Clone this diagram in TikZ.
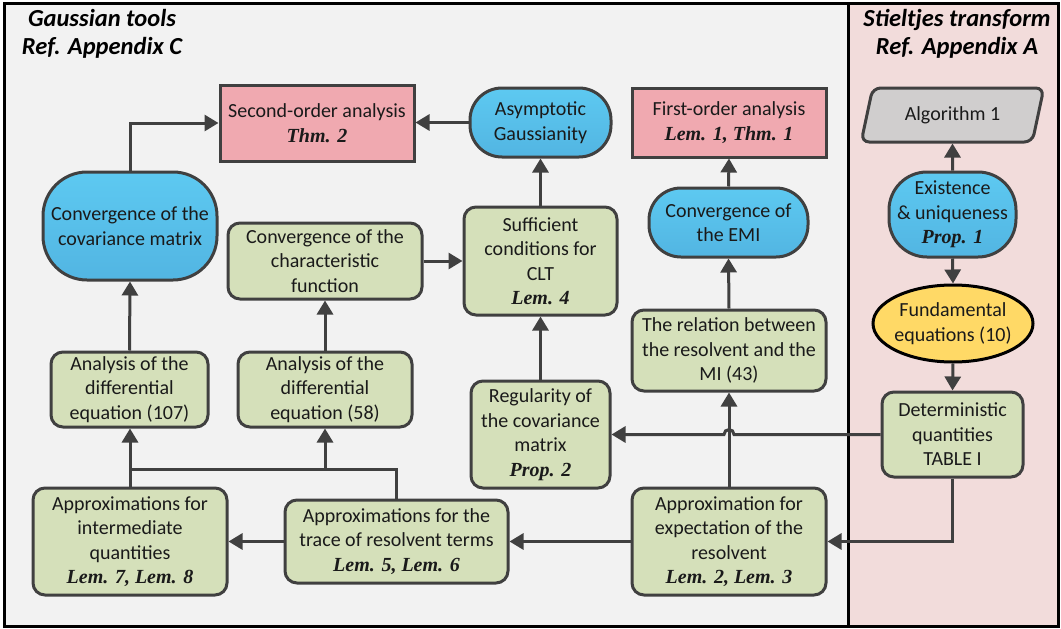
\documentclass[tikz,border=0pt]{standalone}
\usepackage{fontspec}
\setmainfont{Carlito}
\newfontfamily\lemfont{Liberation Serif}
\usetikzlibrary{shapes.geometric,arrows.meta,calc}
\definecolor{lc}{HTML}{404040}
\definecolor{txt}{HTML}{1A1A1A}
\definecolor{gfill}{HTML}{D5E0BA}
\definecolor{pfill}{HTML}{F0A9B0}
\definecolor{btop}{HTML}{5DC9F1}
\definecolor{bbot}{HTML}{52B5E2}
\definecolor{yfill}{HTML}{FFD966}
\definecolor{afill}{HTML}{D0CECE}
\definecolor{lbg}{HTML}{F2F2F2}
\definecolor{rbg}{HTML}{F2DCDB}
\newcommand\lem[1]{{\lemfont\bfseries\itshape #1}}
\tikzset{
  base/.style={draw=lc, line width=3pt, align=center, inner sep=1pt, text=txt,
    font=\fontsize{20}{24.5}\selectfont},
  gbox/.style={base, rectangle, rounded corners=12pt, fill=gfill},
  pbox/.style={base, rectangle, fill=pfill},
  bnode/.style={base, rectangle, top color=btop, bottom color=bbot},
  arr/.style={draw=lc, line width=3pt, -{Triangle[length=14pt,width=16pt]}},
  plain/.style={draw=lc, line width=3pt},
  head/.style={align=center, text=black, font=\fontsize{24.5}{28}\selectfont\bfseries\itshape},
}
\begin{document}
\begin{tikzpicture}[x=1pt,y=-1pt]
\useasboundingbox (0,0) rectangle (1061,629);
% panels
\fill[lbg] (4,3) rectangle (848,626);
\fill[rbg] (848,3) rectangle (1058,626);
\draw[black, line width=3pt] (4,3) rectangle (1058,626);
\draw[black, line width=3pt] (848,3) -- (848,626);
% headings
\node[head] (hl) at (102,34) {Gaussian tools\\Ref. Appendix C};
\node[head] (hr) at (957,34) {Stieltjes transform\\Ref. Appendix A};
% nodes
\node[pbox, minimum width=194pt, minimum height=76pt] (second) at (317,123) {Second-order analysis\\\lem{Thm. 2}};
\node[bnode, rounded corners=32pt, minimum width=141pt, minimum height=69pt] (asym) at (540.5,122.5) {Asymptotic\\Gaussianity};
\node[pbox, minimum width=194pt, minimum height=69pt] (first) at (729,122.5) {First-order analysis\\\lem{Lem. 1, Thm. 1}};
\node[bnode, rounded corners=44pt, minimum width=174pt, minimum height=108pt] (cov) at (130,226) {Convergence of the\\covariance matrix};
\node[gbox, minimum width=194pt, minimum height=76pt] (char) at (325,261) {Convergence of the\\characteristic\\function};
\node[gbox, minimum width=153pt, minimum height=108pt] (suff) at (540.5,261) {Sufficient\\conditions for\\CLT\\\lem{Lem. 4}};
\node[bnode, rounded corners=32pt, minimum width=159pt, minimum height=69pt] (emi) at (728.5,222.5) {Convergence of\\the EMI};
\node[gbox, minimum width=194pt, minimum height=81pt] (rel) at (729,350.5) {The relation between\\the resolvent and the\\MI (43)};
\node[gbox, minimum width=157pt, minimum height=75pt] (a107) at (129.5,389.5) {Analysis of the\\differential\\equation (107)};
\node[gbox, minimum width=174pt, minimum height=75pt] (a58) at (325,389.5) {Analysis of the\\differential\\equation (58)};
\node[gbox, minimum width=139pt, minimum height=107pt] (reg) at (540.5,434.5) {Regularity of\\the covariance\\matrix\\\lem{Prop. 2}};
\node[gbox, minimum width=194pt, minimum height=107pt] (inter) at (130,541.5) {Approximations for\\intermediate\\quantities\\\lem{Lem. 7, Lem. 8}};
\node[gbox, minimum width=223pt, minimum height=83pt] (trace) at (396.5,541.5) {Approximations for the\\trace of resolvent terms\\\lem{Lem. 5, Lem. 6}};
\node[gbox, minimum width=194pt, minimum height=107pt] (expn) at (729,541.5) {Approximation for\\expectation of the\\resolvent\\\lem{Lem. 2, Lem. 3}};
\node[base, trapezium, trapezium left angle=70, trapezium right angle=110, trapezium stretches=true,
      rounded corners=8pt, fill=afill, minimum width=183pt, minimum height=54pt] (alg) at (952.5,115) {Algorithm 1};
\node[bnode, rounded corners=38pt, minimum width=127pt, minimum height=85pt] (exist) at (952.5,214.5) {Existence\\\&~uniqueness\\\lem{Prop. 1}};
\node[base, ellipse, draw=black, fill=yfill, inner xsep=-8pt, inner ysep=0pt, minimum width=160pt, minimum height=77pt] (fund) at (953,323.5) {Fundamental\\equations (10)};
\node[gbox, minimum width=141pt, minimum height=85pt] (det) at (952.5,434.5) {Deterministic\\quantities\\TABLE I};
% connectors
\draw[arr] (cov.north) |- (second.west);
\draw[arr] (asym.west) -- (second.east |- asym.west);
\draw[arr] (suff.north) -- (asym.south);
\draw[arr] (char.east) -- (suff.west |- char.east);
\draw[arr] (a58.north) -- (char.south);
\draw[arr] (reg.north) -- (suff.south);
\draw[arr] (a107.north) -- (cov.south);
\draw[arr] (inter.north) -- (inter.north |- a107.south);
\coordinate (J) at (130,469);
\draw[plain] (trace.north) |- (J);
\draw[arr] (a58.south |- J) -- (a58.south);
\draw[arr] (trace.west) -- (inter.east);
\draw[arr] (expn.west) -- (trace.east);
\draw[arr] (expn.north) -- (rel.south);
\draw[arr] (rel.north) -- (emi.south);
\draw[arr] (emi.north) -- (first.south);
\coordinate (hop) at (expn.north |- det.west);
\draw[arr] (det.west) -- ([xshift=5pt]hop) arc[start angle=0, end angle=180, radius=5pt] -- (reg.east |- det.west);
\draw[arr] (det.south) |- (expn.east);
\draw[arr] (fund.south) -- (det.north);
\draw[arr] (exist.south) -- (fund.north);
\draw[arr] (exist.north) -- (alg.south);
\end{tikzpicture}
\end{document}
